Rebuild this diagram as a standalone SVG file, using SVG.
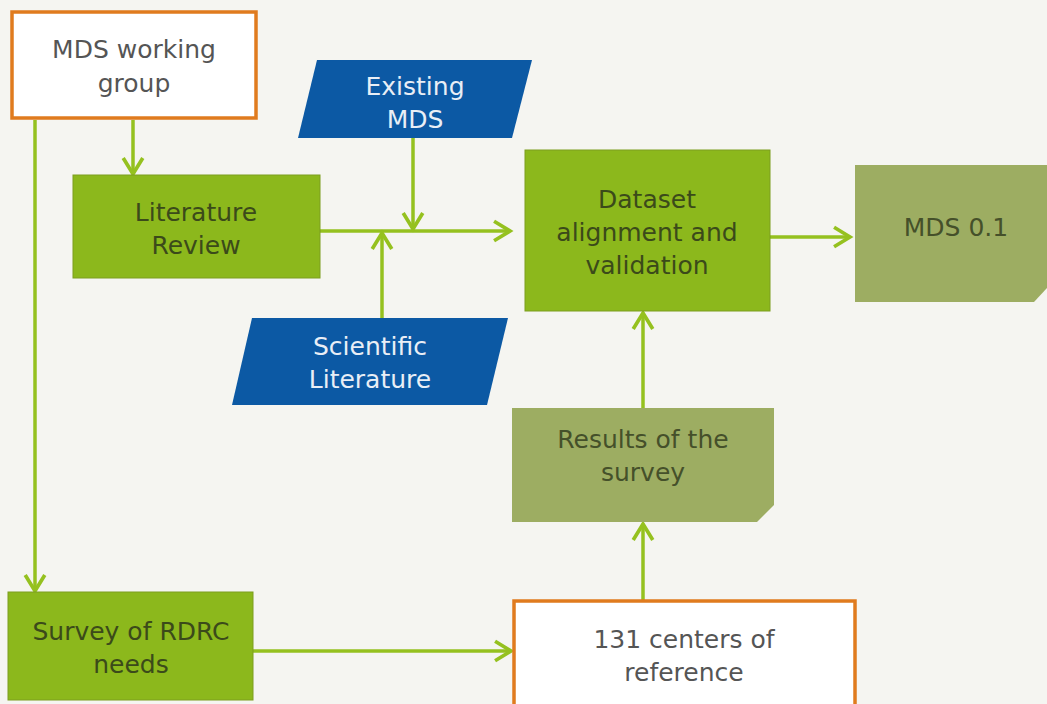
<svg xmlns="http://www.w3.org/2000/svg" width="1047" height="704" viewBox="0 0 1047 704">
  <defs>
    <marker id="chev" viewBox="0 0 20 20" refX="17" refY="10" markerWidth="7" markerHeight="7" markerUnits="strokeWidth" orient="auto">
      <path d="M4,2 L17,10 L4,18" fill="none" stroke="#95c11f" stroke-width="3" stroke-linejoin="miter"/>
    </marker>
    <style>
      .bg { fill: #f5f5f1; }
      .orange { fill: #ffffff; stroke: #e07b1e; stroke-width: 3.5; }
      .green { fill: #8cb81c; stroke: #7c9e1e; stroke-width: 1; }
      .olive { fill: #9dad62; }
      .blue { fill: #0c59a4; }
      .conn { fill: none; stroke: #95c11f; stroke-width: 3.5; }
      .arrow { marker-end: url(#chev); }
      text { font-family: "DejaVu Sans", "Liberation Sans", sans-serif; font-size: 25px; text-anchor: middle; }
      .t-gray { fill: #555555; }
      .t-dark { fill: #3b4a1a; }
      .t-olive { fill: #45502a; }
      .t-white { fill: #e9eef6; }
    </style>
  </defs>

  <rect class="bg" x="0" y="0" width="1047" height="704"/>

  <!-- connectors -->
  <g id="connectors">
    <line class="conn arrow" x1="133" y1="120" x2="133" y2="174"/>
    <line class="conn arrow" x1="35" y1="120" x2="35" y2="591"/>
    <line class="conn arrow" x1="320" y1="231" x2="510" y2="231"/>
    <line class="conn arrow" x1="413" y1="138" x2="413" y2="229"/>
    <line class="conn arrow" x1="382" y1="318" x2="382" y2="233"/>
    <line class="conn arrow" x1="770" y1="237" x2="850" y2="237"/>
    <line class="conn arrow" x1="643" y1="408" x2="643" y2="313"/>
    <line class="conn arrow" x1="643" y1="600" x2="643" y2="524"/>
    <line class="conn arrow" x1="253" y1="651" x2="511" y2="651"/>
  </g>

  <g id="mds-working-group">
    <rect class="orange" x="12" y="12" width="244" height="106"/>
    <text class="t-gray" x="134" y="58">MDS working</text>
    <text class="t-gray" x="134" y="92">group</text>
  </g>

  <g id="literature-review">
    <rect class="green" x="73" y="175" width="247" height="103"/>
    <text class="t-dark" x="196" y="221">Literature</text>
    <text class="t-dark" x="196" y="254">Review</text>
  </g>

  <g id="existing-mds">
    <polygon class="blue" points="317,60 532,60 512,138 298,138"/>
    <text class="t-white" x="415" y="95">Existing</text>
    <text class="t-white" x="415" y="128">MDS</text>
  </g>

  <g id="scientific-literature">
    <polygon class="blue" points="252,318 508,318 487,405 232,405"/>
    <text class="t-white" x="370" y="355">Scientific</text>
    <text class="t-white" x="370" y="388">Literature</text>
  </g>

  <g id="dataset-alignment">
    <rect class="green" x="525" y="150" width="245" height="161"/>
    <text class="t-dark" x="647" y="208">Dataset</text>
    <text class="t-dark" x="647" y="241">alignment and</text>
    <text class="t-dark" x="647" y="274">validation</text>
  </g>

  <g id="mds-01">
    <path class="olive" d="M855,165 H1047 V288 L1034,302 H855 Z"/>
    <text class="t-olive" x="956" y="236">MDS 0.1</text>
  </g>

  <g id="results-of-survey">
    <path class="olive" d="M512,408 H774 V505 L757,522 H512 Z"/>
    <text class="t-olive" x="643" y="448">Results of the</text>
    <text class="t-olive" x="643" y="481">survey</text>
  </g>

  <g id="centers-of-reference">
    <rect class="orange" x="514" y="601" width="341" height="110"/>
    <text class="t-gray" x="684" y="648">131 centers of</text>
    <text class="t-gray" x="684" y="681">reference</text>
  </g>

  <g id="survey-rdrc-needs">
    <rect class="green" x="8" y="592" width="245" height="108"/>
    <text class="t-dark" x="131" y="640">Survey of RDRC</text>
    <text class="t-dark" x="131" y="673">needs</text>
  </g>
</svg>
